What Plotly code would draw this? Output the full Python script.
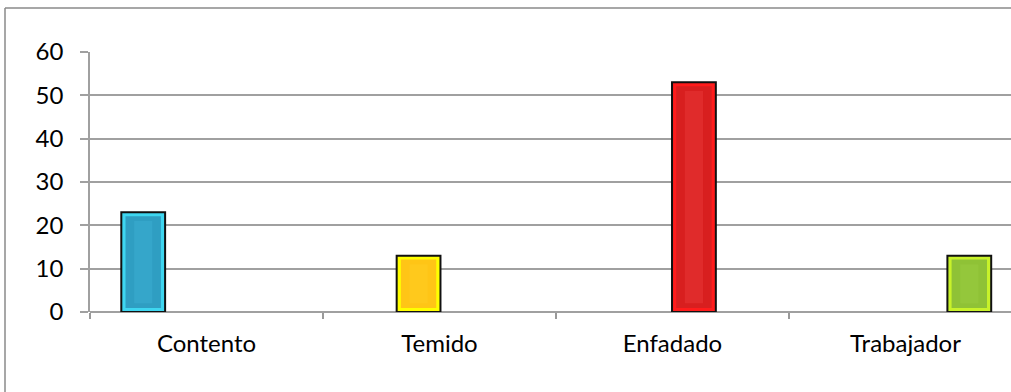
import plotly.graph_objects as go

categories = ["Contento", "Temido", "Enfadado", "Trabajador"]
values = [23, 13, 53, 13]
y_ticks = [0, 10, 20, 30, 40, 50, 60]
outer_colors = ["#3ed6f0", "#ffff00", "#ff1c1c", "#c8f22a"]
inner_colors = ["#2f9ec2", "#ffc516", "#d81f1f", "#8fc236"]
center_colors = ["#3aaccf", "#ffcc22", "#e63434", "#98c940"]

n = len(categories)
slot = 1 / 5.5          # Excel-like gap width 150% with 4 series
bar_w = 0.188
fig = go.Figure()
for i, (cat, v) in enumerate(zip(categories, values)):
    off = -0.5 + 0.75 * slot + i * slot - 0.002
    fig.add_trace(go.Bar(
        x=[i], y=[v], name=cat, offset=off, width=bar_w,
        marker=dict(color=outer_colors[i], line=dict(color="#111111", width=2)),
        showlegend=False, hoverinfo="x+y"))
    fig.add_trace(go.Bar(
        x=[i], y=[v - 1.8], base=[0.9], offset=off + 0.018, width=bar_w - 0.036,
        marker=dict(color=inner_colors[i], line=dict(width=0)),
        showlegend=False, hoverinfo="skip"))
    fig.add_trace(go.Bar(
        x=[i], y=[v - 4.0], base=[2.0], offset=off + 0.055, width=bar_w - 0.11,
        marker=dict(color=center_colors[i], line=dict(width=0)), opacity=0.6,
        showlegend=False, hoverinfo="skip"))

left_px, plot_w = 90, 1011 - 90
cat_px = 233
x_max = -0.5 + plot_w / cat_px

fig.update_layout(
    width=1011, height=392,
    margin=dict(l=90, r=0, t=52, b=80),
    paper_bgcolor="white", plot_bgcolor="white",
    barmode="overlay",
    font=dict(family="Lato, 'Open Sans', sans-serif", size=24, color="#000000"),
    xaxis=dict(
        range=[-0.5, x_max], tickmode="array",
        tickvals=list(range(n)), ticktext=categories, ticks="",
        showgrid=False, showline=False, zeroline=False,
        tickfont=dict(size=24), ticklabelstandoff=15,
        minor=dict(tickmode="array", tickvals=[k - 0.5 for k in range(n + 1)],
                   ticks="outside", ticklen=6, tickcolor="#999999", tickwidth=1.5,
                   showgrid=False),
    ),
    yaxis=dict(
        range=[0, 60], tickmode="array", tickvals=y_ticks,
        showgrid=True, gridcolor="#a0a0a0", gridwidth=1.5,
        showline=True, linecolor="#a0a0a0", linewidth=1.5,
        ticks="outside", ticklen=8, tickcolor="#a0a0a0", tickwidth=1.5,
        zeroline=True, zerolinecolor="#a0a0a0", zerolinewidth=1.5,
        tickfont=dict(size=24), ticklabelstandoff=12,
    ),
    shapes=[
        dict(type="line", xref="paper", yref="paper",
             x0=(5 - 90) / 921, x1=1.0, y0=(312 - 8) / 260, y1=(312 - 8) / 260,
             line=dict(color="#8a8a8a", width=1.5), layer="below"),
        dict(type="line", xref="paper", yref="paper",
             x0=(5 - 90) / 921, x1=(5 - 90) / 921, y0=(312 - 392) / 260, y1=(312 - 8) / 260,
             line=dict(color="#8a8a8a", width=1.5), layer="below"),
    ],
)

fig.write_html("out.html")
